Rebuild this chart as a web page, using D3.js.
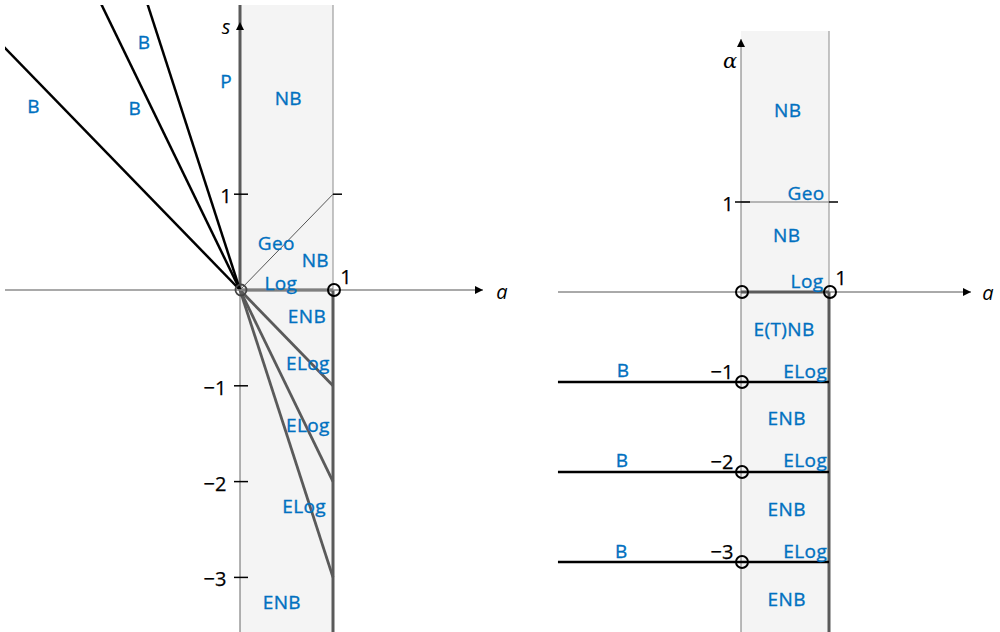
<!DOCTYPE html>
<html>
<head>
<meta charset="utf-8">
<script src="https://cdn.jsdelivr.net/npm/d3@7"></script>
<style>
  body { margin: 0; background: #fff; }
  .lbl { font-family: "Open Sans", sans-serif; font-size: 19px; fill: #0070C0; stroke: #0070C0; stroke-width: 0.35px; letter-spacing: 0.4px; }
  .num { font-family: "Open Sans", sans-serif; font-size: 20px; fill: #000; stroke: #000; stroke-width: 0.25px; }
  .axname { font-family: "Open Sans", sans-serif; font-size: 20px; font-style: italic; fill: #000; }
</style>
</head>
<body>
<div id="chart"></div>
<script>
// ---- data (left panel: a vs s) ----
const leftBSlopes = [-1, -2, -3];          // s = k*a, a < 0  (black B rays)
const leftELogSlopes = [-1, -2, -3];       // s = k*a, 0 <= a <= 1 (grey ELog rays)
const leftTicks = [1, -1, -2, -3];
const leftLabels = [
  {t: "B", a: -2.22, s: 1.92}, {t: "B", a: -1.13, s: 1.90}, {t: "B", a: -1.03, s: 2.58},
  {t: "P", a: -0.15, s: 2.18}, {t: "NB", a: 0.52, s: 2.0}, {t: "Geo", a: 0.39, s: 0.49},
  {t: "NB", a: 0.81, s: 0.31}, {t: "Log", a: 0.44, s: 0.07}, {t: "ENB", a: 0.72, s: -0.27},
  {t: "ELog", a: 0.73, s: -0.77}, {t: "ELog", a: 0.73, s: -1.41}, {t: "ELog", a: 0.69, s: -2.26},
  {t: "ENB", a: 0.45, s: -3.26}
];

// ---- data (right panel: a vs alpha) ----
const rightBLevels = [-1, -2, -3];         // alpha = k, a <= 0 .. 1
const rightTicks = [1];
const rightLabels = [
  {t: "NB", a: 0.53, s: 2.02}, {t: "Geo", a: 0.74, s: 1.10}, {t: "NB", a: 0.52, s: 0.63},
  {t: "Log", a: 0.75, s: 0.12}, {t: "E(T)NB", a: 0.49, s: -0.42},
  {t: "B", a: -1.34, s: -0.87}, {t: "ELog", a: 0.73, s: -0.88}, {t: "ENB", a: 0.52, s: -1.40},
  {t: "B", a: -1.35, s: -1.87}, {t: "ELog", a: 0.73, s: -1.87}, {t: "ENB", a: 0.52, s: -2.42},
  {t: "B", a: -1.36, s: -2.88}, {t: "ELog", a: 0.73, s: -2.88}, {t: "ENB", a: 0.52, s: -3.42}
];

const W = 1000, H = 632;
const svg = d3.select("#chart").append("svg").attr("width", W).attr("height", H);

const defs = svg.append("defs");
defs.append("marker").attr("id", "arrow").attr("viewBox", "0 0 10 10")
  .attr("refX", 10).attr("refY", 5).attr("markerWidth", 8).attr("markerHeight", 8)
  .attr("markerUnits", "userSpaceOnUse").attr("orient", "auto")
  .append("path").attr("d", "M0,0 L10,5 L0,10 z").attr("fill", "#000");
defs.append("clipPath").attr("id", "clipL").append("rect")
  .attr("x", 5).attr("y", 5).attr("width", 485).attr("height", H - 5);

const darkGrey = "#5a5a5a", thinGrey = "#8c8c8c";

// =================== LEFT PANEL ===================
const xL = d3.scaleLinear().domain([0, 1]).range([240, 333]);
const yL = d3.scaleLinear().domain([0, 1]).range([290, 194.2]);
const gL = svg.append("g");
const body = gL.append("g").attr("clip-path", "url(#clipL)");

// shaded band 0 <= a <= 1
body.append("rect").attr("x", xL(0)).attr("y", 5)
  .attr("width", xL(1) - xL(0)).attr("height", H - 5)
  .attr("fill", "#f4f4f4");
body.append("line").attr("x1", xL(0)).attr("x2", xL(0)).attr("y1", 5).attr("y2", H)
  .attr("stroke", "#666").attr("stroke-width", 1);
body.append("line").attr("x1", xL(1)).attr("x2", xL(1)).attr("y1", 5).attr("y2", yL(0))
  .attr("stroke", thinGrey).attr("stroke-width", 1);

// x axis
gL.append("line").attr("x1", 5).attr("x2", 483).attr("y1", yL(0)).attr("y2", yL(0))
  .attr("stroke", thinGrey).attr("stroke-width", 1.3).attr("marker-end", "url(#arrow)");

// Geo diagonal s = a
body.append("line").attr("x1", xL(0)).attr("y1", yL(0)).attr("x2", xL(1)).attr("y2", yL(1))
  .attr("stroke", "#555").attr("stroke-width", 1);

// P line (a = 0, s > 0)
body.append("line").attr("x1", xL(0)).attr("x2", xL(0)).attr("y1", yL(0)).attr("y2", 5)
  .attr("stroke", darkGrey).attr("stroke-width", 3);
// s axis arrow head
gL.append("line").attr("x1", xL(0)).attr("x2", xL(0)).attr("y1", 40).attr("y2", 22)
  .attr("stroke", darkGrey).attr("stroke-width", 1).attr("marker-end", "url(#arrow)");

// Log segment and a = 1 boundary
body.append("line").attr("x1", xL(0)).attr("x2", xL(1)).attr("y1", yL(0)).attr("y2", yL(0))
  .attr("stroke", darkGrey).attr("stroke-width", 3);
body.append("line").attr("x1", xL(1)).attr("x2", xL(1)).attr("y1", yL(0)).attr("y2", H)
  .attr("stroke", darkGrey).attr("stroke-width", 3);

// ELog rays
body.selectAll(".elog").data(leftELogSlopes).enter().append("line")
  .attr("class", "elog")
  .attr("x1", xL(0)).attr("y1", yL(0))
  .attr("x2", xL(1)).attr("y2", d => yL(d * 1))
  .attr("stroke", darkGrey).attr("stroke-width", 2.8);

// B rays
body.selectAll(".bray").data(leftBSlopes).enter().append("line")
  .attr("class", "bray")
  .attr("x1", xL(0)).attr("y1", yL(0))
  .attr("x2", xL(-4)).attr("y2", d => yL(d * -4))
  .attr("stroke", "#000").attr("stroke-width", 2.5);

// ticks
gL.selectAll(".tick").data(leftTicks).enter().append("line")
  .attr("x1", xL(0) - 6).attr("x2", xL(0) + 8)
  .attr("y1", d => yL(d)).attr("y2", d => yL(d))
  .attr("stroke", "#000").attr("stroke-width", 1.5);
gL.append("line").attr("x1", xL(1)).attr("x2", xL(1) + 9).attr("y1", yL(1)).attr("y2", yL(1))
  .attr("stroke", "#000").attr("stroke-width", 1.5);

gL.selectAll(".tl").data(leftTicks).enter().append("text")
  .attr("class", "num").attr("text-anchor", "middle")
  .attr("x", d => d > 0 ? xL(0) - 14 : xL(0) - 25)
  .attr("y", d => yL(d) + 2).attr("dy", "0.35em")
  .text(d => d < 0 ? "\u2212" + Math.abs(d) : d);
gL.append("text").attr("class", "num").attr("text-anchor", "middle")
  .attr("x", xL(1) + 13).attr("y", yL(0) - 13).attr("dy", "0.35em").text("1");

// circles
gL.append("circle").attr("cx", xL(0) + 1).attr("cy", yL(0)).attr("r", 5.5)
  .attr("fill", "none").attr("stroke", "#444").attr("stroke-width", 1.8);
gL.append("circle").attr("cx", xL(1) + 1).attr("cy", yL(0)).attr("r", 6)
  .attr("fill", "none").attr("stroke", "#000").attr("stroke-width", 2);

// axis names
gL.append("text").attr("class", "axname").attr("x", 226).attr("y", 34).attr("text-anchor", "middle").text("s");
gL.append("text").attr("class", "axname").attr("x", 502).attr("y", 299).attr("text-anchor", "middle").text("a");

// region labels
gL.selectAll(".lbl").data(leftLabels).enter().append("text")
  .attr("class", "lbl").attr("text-anchor", "middle")
  .attr("x", d => xL(d.a)).attr("y", d => yL(d.s)).attr("dy", "0.35em")
  .text(d => d.t);

// =================== RIGHT PANEL ===================
const xR = d3.scaleLinear().domain([0, 1]).range([741, 829]);
const yR = d3.scaleLinear().domain([0, 1]).range([292, 202]);
const gR = svg.append("g");

gR.append("rect").attr("x", xR(0)).attr("y", 31)
  .attr("width", xR(1) - xR(0)).attr("height", H - 31).attr("fill", "#f4f4f4");
gR.append("line").attr("x1", xR(1)).attr("x2", xR(1)).attr("y1", 31).attr("y2", yR(0))
  .attr("stroke", thinGrey).attr("stroke-width", 1);

// alpha axis
gR.append("line").attr("x1", xR(0)).attr("x2", xR(0)).attr("y1", H).attr("y2", 39)
  .attr("stroke", "#777").attr("stroke-width", 1).attr("marker-end", "url(#arrow)");
// a axis
gR.append("line").attr("x1", 558).attr("x2", 971).attr("y1", yR(0)).attr("y2", yR(0))
  .attr("stroke", "#555").attr("stroke-width", 1).attr("marker-end", "url(#arrow)");

// Geo line alpha = 1
gR.append("line").attr("x1", xR(0)).attr("x2", xR(1)).attr("y1", yR(1)).attr("y2", yR(1))
  .attr("stroke", "#777").attr("stroke-width", 1);

// Log segment and a = 1 boundary
gR.append("line").attr("x1", xR(0)).attr("x2", xR(1)).attr("y1", yR(0)).attr("y2", yR(0))
  .attr("stroke", darkGrey).attr("stroke-width", 3);
gR.append("line").attr("x1", xR(1)).attr("x2", xR(1)).attr("y1", yR(0)).attr("y2", H)
  .attr("stroke", darkGrey).attr("stroke-width", 3);

// B / ELog horizontal lines
gR.selectAll(".bline").data(rightBLevels).enter().append("line")
  .attr("class", "bline")
  .attr("x1", xR(-2.08)).attr("x2", xR(1))
  .attr("y1", d => yR(d)).attr("y2", d => yR(d))
  .attr("stroke", "#000").attr("stroke-width", 2.5);

// ticks
gR.selectAll(".tick").data(rightTicks).enter().append("line")
  .attr("x1", xR(0) - 6).attr("x2", xR(0) + 9)
  .attr("y1", d => yR(d)).attr("y2", d => yR(d))
  .attr("stroke", "#000").attr("stroke-width", 1.5);
gR.append("line").attr("x1", xR(1)).attr("x2", xR(1) + 9).attr("y1", yR(1)).attr("y2", yR(1))
  .attr("stroke", "#000").attr("stroke-width", 1.5);

gR.selectAll(".tl").data(rightTicks).enter().append("text")
  .attr("class", "num").attr("text-anchor", "middle")
  .attr("x", xR(0) - 13).attr("y", d => yR(d) + 2).attr("dy", "0.35em").text(d => d);
gR.selectAll(".bl").data(rightBLevels).enter().append("text")
  .attr("class", "num").attr("text-anchor", "middle")
  .attr("x", xR(0) - 19).attr("y", d => yR(d) - 10).attr("dy", "0.35em")
  .text(d => "\u2212" + Math.abs(d));
gR.append("text").attr("class", "num").attr("text-anchor", "middle")
  .attr("x", xR(1) + 12).attr("y", yR(0) - 14).attr("dy", "0.35em").text("1");

// circles
const circR = [{a: 0, s: 0}, {a: 1, s: 0}].concat(rightBLevels.map(d => ({a: 0, s: d})));
gR.selectAll(".pt").data(circR).enter().append("circle")
  .attr("cx", d => xR(d.a) + 1).attr("cy", d => yR(d.s)).attr("r", 6)
  .attr("fill", "none").attr("stroke", "#000").attr("stroke-width", 2);

// axis names
gR.append("text").attr("class", "axname").attr("x", 730).attr("y", 68).attr("text-anchor", "middle")
  .style("font-family", "'DejaVu Serif', serif").style("font-size", "21px").text("\u03b1");
gR.append("text").attr("class", "axname").attr("x", 988).attr("y", 300).attr("text-anchor", "middle").text("a");

// region labels
gR.selectAll(".lbl").data(rightLabels).enter().append("text")
  .attr("class", "lbl").attr("text-anchor", "middle")
  .attr("x", d => xR(d.a)).attr("y", d => yR(d.s)).attr("dy", "0.35em")
  .text(d => d.t);
</script>
</body>
</html>
